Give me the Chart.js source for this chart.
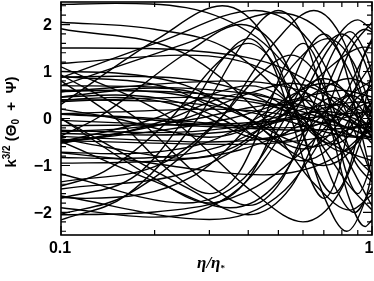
<!DOCTYPE html>
<html><head><meta charset="utf-8">
<script src="https://cdn.jsdelivr.net/npm/chart.js@4/dist/chart.umd.min.js"></script>
<style>html,body{margin:0;padding:0;background:#fff;overflow:hidden}canvas{display:block}</style>
</head><body>
<canvas id="c" width="374" height="281"></canvas>
<script>
// ---- tick labels ----
const xTickValues = [0.1, 1];
const xTickLabels = ['0.1', '1'];
const xMinorTicks = [0.2, 0.3, 0.4, 0.5, 0.6, 0.7, 0.8, 0.9];
const yTickValues = [-2, -1, 0, 1, 2];
const yTickLabels = ['\u22122', '\u22121', '0', '1', '2'];
const yMinorTicks = [-2.4, -2.2, -1.8, -1.6, -1.4, -1.2, -0.8, -0.6, -0.4, -0.2, 0.2, 0.4, 0.6, 0.8, 1.2, 1.4, 1.6, 1.8, 2.2, 2.4];

// ---- curves: [eta/eta*, k^{3/2}(Theta0+Psi)] ----
const L01 = [[0.1,2.43],[0.15,2.45],[0.425,1.73],[0.7,0],[0.975,-1.73],[1,-1.86]];
const L02 = [[0.1,2.05],[0.2,1.9],[0.35,1.45],[0.6,0],[0.85,-1.45],[1,-1.95]];
const L03 = [[0.1,1.91],[0.25,1.38],[0.45,0],[0.65,-1.38],[0.85,-1.95],[1,-1.62]];
const L04 = [[0.1,1.5],[0.12,1.5],[0.3,1.41],[0.52,1.06],[0.92,0],[1,-0.24]];
const L05 = [[0.1,1.17],[0.25,1.35],[0.475,0.96],[0.7,0],[0.925,-0.96],[1,-1.17]];
const L06 = [[0.1,1],[0.15,0.97],[0.25,0.71],[0.4,0],[0.55,-0.71],[0.7,-1],[0.85,-0.71],[1,0]];
const L07 = [[0.1,0.87],[0.2075,1.63],[0.42,2.3],[0.6325,1.63],[0.845,0],[1,-1.24]];
const L08 = [[0.1,0.7],[0.25,1.59],[0.5,2.25],[0.75,1.59],[1,0]];
const L09 = [[0.1,0.3],[0.205,1.7],[0.33,2.4],[0.455,1.7],[0.58,0],[0.705,-1.7],[0.83,-2.4],[0.955,-1.7],[1,-1.16]];
const L10 = [[0.1,-2.04],[0.1625,-1.63],[0.325,0],[0.4875,1.63],[0.65,2.3],[0.8125,1.63],[0.975,0],[1,-0.28]];
const L11 = [[0.1,0],[0.25,-1.45],[0.4,-2.05],[0.55,-1.45],[0.7,0],[0.85,1.45],[1,2.05]];
const L12 = [[0.1,0.93],[0.175,0],[0.2875,-1.31],[0.4,-1.85],[0.5125,-1.31],[0.625,0],[0.7375,1.31],[0.85,1.85],[0.9625,1.31],[1,0.93]];
const L13 = [[0.1,-2.05],[0.2,-1.99],[0.425,-1.45],[0.75,0],[1,1.17]];
const L14 = [[0.1,-1.18],[0.25,-1.8],[0.3875,-1.27],[0.525,0],[0.6625,1.27],[0.8,1.8],[0.9375,1.27],[1,0.76]];
const L15 = [[0.1,-1.68],[0.12,-1.7],[0.27,-1.2],[0.42,0],[0.57,1.2],[0.72,1.7],[0.87,1.2],[1,0.19]];
const L16 = [[0.1,-1.5],[0.275,-1.07],[0.5,0],[0.725,1.07],[0.95,1.52],[1,1.49]];
const L17 = [[0.1,-1.35],[0.2125,-0.95],[0.325,0],[0.4375,0.95],[0.55,1.35],[0.6625,0.95],[0.775,0],[0.8875,-0.95],[1,-1.35]];
const L18 = [[0.1,1.1],[0.225,0],[0.4125,-1.56],[0.6,-2.2],[0.7875,-1.56],[0.975,0],[1,0.22]];
const L19 = [[0.1,-1.65],[0.3,-2.15],[0.525,-1.52],[0.75,0],[0.975,1.52],[1,1.65]];
const L20 = [[0.1,-0.37],[0.13,0],[0.255,1.41],[0.38,2.0],[0.505,1.41],[0.63,0],[0.755,-1.41],[0.88,-2.0],[1,-1.46]];
const L21 = [[0.1,-0.49],[0.2,-1.34],[0.35,-1.9],[0.5,-1.34],[0.65,0],[0.8,1.34],[0.95,1.9],[1,1.84]];
const L22 = [[0.1,0],[0.2,-1.28],[0.3,-1.8],[0.4,-1.28],[0.5,0],[0.6,1.28],[0.7,1.8],[0.8,1.28],[0.9,0],[1,-1.28]];
const L23 = [[0.1,-1.9],[0.2,-2.1],[0.375,-1.48],[0.55,0],[0.725,1.48],[0.9,2.1],[1,1.89]];
const L24 = [[0.1,-1.44],[0.1375,-1.13],[0.225,0],[0.3125,1.13],[0.4,1.6],[0.4875,1.13],[0.575,0],[0.6625,-1.13],[0.75,-1.6],[0.8375,-1.13],[0.925,0],[1,0.99]];
const L25 = [[0.1,-1.7],[0.175,-1.2],[0.25,0],[0.325,1.2],[0.4,1.7],[0.475,1.2],[0.55,0],[0.625,-1.2],[0.7,-1.7],[0.775,-1.2],[0.85,0],[0.925,1.2],[1,1.7]];
const L26 = [[0.1,-2.16],[0.1625,-1.63],[0.275,0],[0.3875,1.63],[0.5,2.3],[0.6125,1.63],[0.725,0],[0.8375,-1.63],[0.95,-2.3],[1,-2.16]];
const L27 = [[0.1,0.8],[0.15,0],[0.225,-1.13],[0.3,-1.6],[0.375,-1.13],[0.45,0],[0.525,1.13],[0.6,1.6],[0.675,1.13],[0.75,0],[0.825,-1.13],[0.9,-1.6],[0.975,-1.13],[1,-0.8]];
const L28 = [[0.1,-0.73],[0.15,-0.85],[0.45,-1.2],[0.75,-0.85],[1,-0.16]];

const S01 = [[0.1,0.9],[0.225,0.64],[0.35,0],[0.475,-0.64],[0.6,-0.9],[0.725,-0.64],[0.85,0],[0.975,0.64],[1,0.73]];
const S02 = [[0.1,-0.83],[0.15,-0.85],[0.325,-0.6],[0.5,0],[0.675,0.6],[0.85,0.85],[1,0.67]];
const S03 = [[0.1,0.6],[0.2,0.58],[0.4,0.42],[0.7,0],[1,-0.42]];
const S04 = [[0.1,-0.38],[0.3,-0.5],[0.525,-0.35],[0.75,0],[0.975,0.35],[1,0.38]];
const S05 = [[0.1,-0.53],[0.25,0],[0.4,0.53],[0.55,0.75],[0.7,0.53],[0.85,0],[1,-0.53]];
const S06 = [[0.1,-0.5],[0.2,0],[0.3,0.5],[0.4,0.7],[0.5,0.5],[0.6,0],[0.7,-0.5],[0.8,-0.7],[0.9,-0.5],[1,0]];
const S07 = [[0.1,0.4],[0.2,0.37],[0.3,0.28],[0.5,0],[0.7,-0.28],[0.9,-0.4],[1,-0.37]];
const S08 = [[0.1,-0.25],[0.2,-0.3],[0.3375,-0.21],[0.475,0],[0.6125,0.21],[0.75,0.3],[0.8875,0.21],[1,0.04]];
const S09 = [[0.1,-0.5],[0.1375,-0.39],[0.225,0],[0.3125,0.39],[0.4,0.55],[0.4875,0.39],[0.575,0],[0.6625,-0.39],[0.75,-0.55],[0.8375,-0.39],[0.925,0],[1,0.34]];
const S10 = [[0.1,0.57],[0.15,0.6],[0.275,0.42],[0.4,0],[0.525,-0.42],[0.65,-0.6],[0.775,-0.42],[0.9,0],[1,0.35]];
const S11 = [[0.1,0.1],[0.15,0.14],[0.3,0.2],[0.45,0.14],[0.6,0],[0.75,-0.14],[0.9,-0.2],[1,-0.17]];
const S12 = [[0.1,-0.15],[0.35,-0.11],[0.6,0],[0.85,0.11],[1,0.14]];
const S13 = [[0.1,-0.43],[0.1375,-0.6],[0.25,-0.85],[0.3625,-0.6],[0.475,0],[0.5875,0.6],[0.7,0.85],[0.8125,0.6],[0.925,0],[1,-0.43]];
const S14 = [[0.1,0.39],[0.15,0.45],[0.225,0.32],[0.3,0],[0.375,-0.32],[0.45,-0.45],[0.525,-0.32],[0.6,0],[0.675,0.32],[0.75,0.45],[0.825,0.32],[0.9,0],[0.975,-0.32],[1,-0.39]];
const S15 = [[0.1,-0.32],[0.2,-0.35],[0.375,-0.25],[0.55,0],[0.725,0.25],[0.9,0.35],[1,0.32]];
const S16 = [[0.1,0.88],[0.15,0.9],[0.3625,0.64],[0.575,0],[0.7875,-0.64],[1,-0.9]];
const S17 = [[0.1,0.46],[0.2,0.65],[0.3,0.46],[0.4,0],[0.5,-0.46],[0.6,-0.65],[0.7,-0.46],[0.8,0],[0.9,0.46],[1,0.65]];
const S18 = [[0.1,-0.04],[0.325,-0.18],[0.6,-0.25],[0.875,-0.18],[1,-0.1]];
const S19 = [[0.1,0.45],[0.15,0.5],[0.2375,0.35],[0.325,0],[0.4125,-0.35],[0.5,-0.5],[0.5875,-0.35],[0.675,0],[0.7625,0.35],[0.85,0.5],[0.9375,0.35],[1,0.11]];
const S20 = [[0.1,-0.47],[0.35,-0.55],[0.7,-0.39],[1,-0.06]];
const S21 = [[0.1,-0.28],[0.1625,-0.21],[0.275,0],[0.3875,0.21],[0.5,0.3],[0.6125,0.21],[0.725,0],[0.8375,-0.21],[0.95,-0.3],[1,-0.28]];
const S22 = [[0.1,0.57],[0.35,0.8],[0.6,0.57],[0.85,0],[1,-0.36]];
const S23 = [[0.1,-0.72],[0.15,-0.75],[0.2875,-0.53],[0.425,0],[0.5625,0.53],[0.7,0.75],[0.8375,0.53],[0.975,0],[1,-0.11]];
const S24 = [[0.1,0.09],[0.175,0],[0.2625,-0.11],[0.35,-0.15],[0.4375,-0.11],[0.525,0],[0.6125,0.11],[0.7,0.15],[0.7875,0.11],[0.875,0],[0.9625,-0.11],[1,-0.13]];
const S25 = [[0.1,0.2],[0.15,0],[0.225,-0.28],[0.3,-0.4],[0.375,-0.28],[0.45,0],[0.525,0.28],[0.6,0.4],[0.675,0.28],[0.75,0],[0.825,-0.28],[0.9,-0.4],[0.975,-0.28],[1,-0.2]];
const S26 = [[0.1,0.7],[0.2,0.67],[0.425,0.5],[0.8,0],[1,-0.29]];
const S27 = [[0.1,-0.95],[0.2,-0.91],[0.375,-0.67],[0.65,0],[0.925,0.67],[1,0.8]];
const S28 = [[0.1,0.36],[0.25,0.45],[0.4375,0.32],[0.625,0],[0.8125,-0.32],[1,-0.45]];
const S29 = [[0.1,0.1],[0.2,0],[0.35,-0.14],[0.5,-0.2],[0.65,-0.14],[0.8,0],[0.95,0.14],[1,0.17]];
const S30 = [[0.1,-0.46],[0.125,-0.42],[0.35,0],[0.575,0.42],[0.8,0.6],[1,0.46]];

const allCurves = [L01,L02,L03,L04,L05,L06,L07,L08,L09,L10,L11,L12,L13,L14,L15,L16,L17,L18,L19,L20,L21,L22,L23,L24,L25,L26,L27,L28,
  S01,S02,S03,S04,S05,S06,S07,S08,S09,S10,S11,S12,S13,S14,S15,S16,S17,S18,S19,S20,S21,S22,S23,S24,S25,S26,S27,S28,S29,S30];

const datasets = allCurves.map(d => ({
  data: d, borderColor: '#000', borderWidth: 1.4, pointRadius: 0,
  fill: false, cubicInterpolationMode: 'monotone'
}));

function drawRich(ctx, parts, cx, cy) {
  let w = 0;
  parts.forEach(p => { ctx.font = p.f; p.w = ctx.measureText(p.t).width; w += p.w; });
  let x = cx - w / 2;
  ctx.textAlign = 'left'; ctx.textBaseline = 'middle';
  parts.forEach(p => { ctx.font = p.f; ctx.fillText(p.t, x, cy + (p.dy || 0)); x += p.w; });
}

const axesPlugin = {
  id: 'axesPlugin',
  afterDraw(chart) {
    const { ctx, chartArea: a, scales } = chart;
    const xs = scales.x, ys = scales.y;
    ctx.save();
    ctx.strokeStyle = '#000'; ctx.fillStyle = '#000';
    ctx.lineWidth = 1.6;
    ctx.strokeRect(a.left, a.top, a.right - a.left, a.bottom - a.top);
    ctx.lineWidth = 1.2;
    ctx.beginPath();
    const xt = (v, len) => { const px = xs.getPixelForValue(v);
      ctx.moveTo(px, a.bottom); ctx.lineTo(px, a.bottom - len);
      ctx.moveTo(px, a.top); ctx.lineTo(px, a.top + len); };
    const yt = (v, len) => { const py = ys.getPixelForValue(v);
      ctx.moveTo(a.left, py); ctx.lineTo(a.left + len, py);
      ctx.moveTo(a.right, py); ctx.lineTo(a.right - len, py); };
    xTickValues.forEach(v => xt(v, 9));
    xMinorTicks.forEach(v => xt(v, 5));
    yTickValues.forEach(v => yt(v, 9));
    yMinorTicks.forEach(v => yt(v, 5));
    ctx.stroke();

    ctx.font = "bold 16px 'Liberation Sans', Arial, sans-serif";
    ctx.textAlign = 'center'; ctx.textBaseline = 'middle';
    xTickValues.forEach((v, i) => ctx.fillText(xTickLabels[i], xs.getPixelForValue(v) - (i ? 3 : 1), 249));
    ctx.textAlign = 'right';
    yTickValues.forEach((v, i) => ctx.fillText(yTickLabels[i], 52, ys.getPixelForValue(v) + 1));

    // x title
    const serif = "'Liberation Serif', 'DejaVu Serif', serif";
    drawRich(ctx, [
      { t: '\u03b7/\u03b7', f: 'italic bold 17px ' + serif },
      { t: '*', f: 'bold 9px ' + serif, dy: 5 }
    ], 211, 264);

    // y title
    ctx.translate(12, 122); ctx.rotate(-Math.PI / 2);
    const sans = "'Liberation Sans', Arial, sans-serif";
    drawRich(ctx, [
      { t: 'k', f: 'bold 15px ' + sans },
      { t: '3/2', f: 'bold 10px ' + sans, dy: -5 },
      { t: ' (\u0398', f: 'bold 15px ' + sans },
      { t: '0', f: 'bold 10px ' + sans, dy: 4 },
      { t: '  +  \u03a8)', f: 'bold 15px ' + sans }
    ], 0, 0);
    ctx.restore();
  }
};

new Chart(document.getElementById('c').getContext('2d'), {
  type: 'line',
  data: { datasets },
  options: {
    responsive: false, animation: false, devicePixelRatio: 1,
    layout: { padding: { left: 61, right: 2, top: 2, bottom: 46 } },
    plugins: { legend: { display: false }, tooltip: { enabled: false } },
    scales: {
      x: { type: 'logarithmic', min: 0.1, max: 1, display: false },
      y: { type: 'linear', min: -2.48, max: 2.48, display: false }
    }
  },
  plugins: [axesPlugin]
});
</script>
</body></html>
